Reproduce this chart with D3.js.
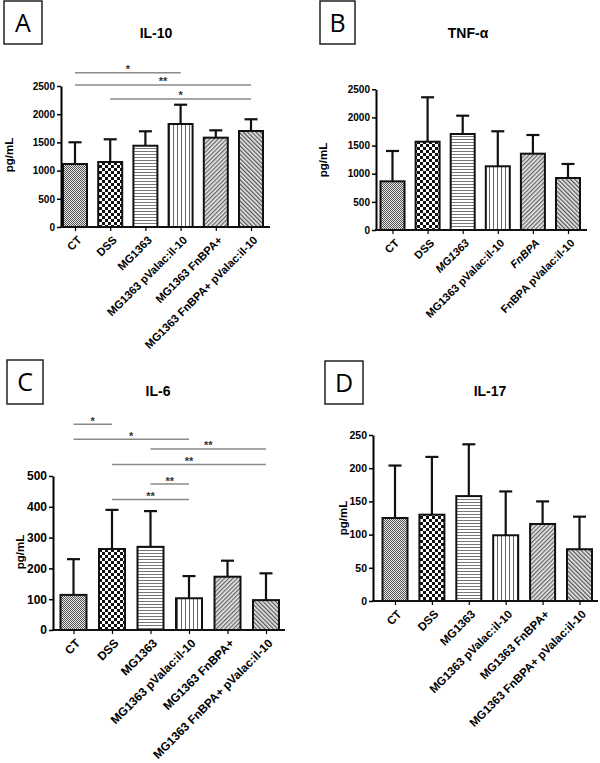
<!DOCTYPE html>
<html lang="en">
<head>
  <meta charset="UTF-8">
  <title>Cytokines</title>
  <script src="https://d3js.org/d3.v7.min.js"></script>
  <style>
    body { margin: 0; background: #fff; }
    svg { display: block; }
    svg text { font-family: "Liberation Sans", Arial, sans-serif; }
  </style>
</head>
<body>
  <svg width="600" height="763"></svg>
  <script>
    // groups
    const groupsFull = ["CT", "DSS", "MG1363", "MG1363 pValac:il-10", "MG1363 FnBPA+", "MG1363 FnBPA+ pValac:il-10"];
    const groupsTnf = ["CT", "DSS", "MG1363", "MG1363 pValac:il-10", "FnBPA", "FnBPA pValac:il-10"];

    // means and SD (pg/mL)
    const il10Mean = [1117, 1152, 1441, 1826, 1584, 1702];
    const il10Sd = [385, 403, 256, 342, 130, 208];
    const tnfMean = [865, 1569, 1706, 1132, 1356, 924];
    const tnfSd = [539, 789, 325, 622, 332, 249];
    const il6Mean = [114, 263, 270, 103, 173, 97];
    const il6Sd = [116, 127, 116, 72, 52, 87];
    const il17Mean = [125, 130, 158, 99, 116, 78];
    const il17Sd = [79, 87, 78, 66, 34, 49];

    // y ticks
    const ticks2500 = [0, 500, 1000, 1500, 2000, 2500];
    const ticks500 = [0, 100, 200, 300, 400, 500];
    const ticks250 = [0, 50, 100, 150, 200, 250];

    // significance bars: [from, to, label, height in pg/mL]
    const sigIl10 = [[0, 3, "*", 2736], [0, 5, "**", 2518], [1, 5, "*", 2270]];
    const sigIl6 = [[0, 1, "*", 668], [0, 3, "*", 619], [2, 5, "**", 588],
                    [1, 5, "**", 537], [2, 3, "**", 474], [1, 3, "**", 424]];

    const patterns = ["fine", "checker", "hlines", "vlines", "diagUp", "diagDown"];
    const FONT = "'Liberation Sans', Arial, sans-serif";

    const svg = d3.select("svg");
    svg.append("rect").attr("width", 600).attr("height", 763).attr("fill", "#fff");

    // fill patterns
    const defs = svg.append("defs");
    let p = defs.append("pattern").attr("id", "fine").attr("patternUnits", "userSpaceOnUse")
      .attr("width", 2).attr("height", 2);
    p.append("rect").attr("width", 2).attr("height", 2).attr("fill", "#e6e6e6");
    p.append("rect").attr("width", 1).attr("height", 1).attr("fill", "#555");
    p.append("rect").attr("x", 1).attr("y", 1).attr("width", 1).attr("height", 1).attr("fill", "#555");

    p = defs.append("pattern").attr("id", "checker").attr("patternUnits", "userSpaceOnUse")
      .attr("width", 6).attr("height", 6);
    p.append("rect").attr("width", 6).attr("height", 6).attr("fill", "#fff");
    p.append("rect").attr("width", 3).attr("height", 3).attr("fill", "#111");
    p.append("rect").attr("x", 3).attr("y", 3).attr("width", 3).attr("height", 3).attr("fill", "#111");

    p = defs.append("pattern").attr("id", "hlines").attr("patternUnits", "userSpaceOnUse")
      .attr("width", 4).attr("height", 3);
    p.append("rect").attr("width", 4).attr("height", 3).attr("fill", "#fff");
    p.append("rect").attr("y", 1).attr("width", 4).attr("height", 1).attr("fill", "#777");

    p = defs.append("pattern").attr("id", "vlines").attr("patternUnits", "userSpaceOnUse")
      .attr("width", 4).attr("height", 4);
    p.append("rect").attr("width", 4).attr("height", 4).attr("fill", "#fff");
    p.append("rect").attr("x", 1).attr("width", 1).attr("height", 4).attr("fill", "#666");

    ["diagUp", "diagDown"].forEach((id, i) => {
      const q = defs.append("pattern").attr("id", id).attr("patternUnits", "userSpaceOnUse")
        .attr("width", 3).attr("height", 3)
        .attr("patternTransform", `rotate(${i ? -45 : 45})`);
      q.append("rect").attr("width", 3).attr("height", 3).attr("fill", "#ebebeb");
      q.append("rect").attr("width", 1.3).attr("height", 3).attr("fill", i ? "#555" : "#666");
    });

    function panel(o) {
      const g = svg.append("g");

      // letter box
      g.append("rect").attr("x", o.box[0]).attr("y", o.box[1]).attr("width", o.box[2]).attr("height", o.box[3])
        .attr("fill", "none").attr("stroke", "#222").attr("stroke-width", 1.5);
      g.append("text").attr("x", o.box[0] + o.box[2] / 2).attr("y", o.box[1] + o.box[3] / 2 + 9)
        .attr("text-anchor", "middle").style("font-family", "'Open Sans', sans-serif")
        .attr("font-size", 25).text(o.letter);

      g.append("text").attr("x", o.titleX).attr("y", o.titleY).attr("text-anchor", "middle")
        .attr("font-weight", "bold").attr("font-size", 14).text(o.title);

      const x = d3.scalePoint().domain(o.groups).range(o.centers);
      const y = d3.scaleLinear().domain([0, o.ticks[o.ticks.length - 1]]).range(o.yRange);

      const rows = o.groups.map((k, i) => ({ k, i, m: o.mean[i], sd: o.sd[i] }));
      const hw = o.barW / 2;

      // error bars (upper only)
      g.selectAll(null).data(rows).enter().append("line")
        .attr("x1", d => x(d.k)).attr("x2", d => x(d.k))
        .attr("y1", d => y(d.m)).attr("y2", d => y(d.m + d.sd))
        .attr("stroke", "#111").attr("stroke-width", 2.2);
      g.selectAll(null).data(rows).enter().append("line")
        .attr("x1", d => x(d.k) - 6.5).attr("x2", d => x(d.k) + 6.5)
        .attr("y1", d => y(d.m + d.sd)).attr("y2", d => y(d.m + d.sd))
        .attr("stroke", "#111").attr("stroke-width", 2.2);

      g.selectAll(null).data(rows).enter().append("rect")
        .attr("x", d => x(d.k) - hw).attr("width", o.barW)
        .attr("y", d => y(d.m)).attr("height", d => y(0) - y(d.m))
        .attr("fill", d => `url(#${patterns[d.i]})`)
        .attr("stroke", "#111").attr("stroke-width", 2);

      // y axis
      const ya = g.append("g").attr("transform", `translate(${o.axisX},0)`)
        .call(d3.axisLeft(y).tickValues(o.ticks).tickFormat(d3.format("d"))
          .tickSize(4).tickSizeOuter(0).tickPadding(2))
        .attr("font-family", FONT);
      ya.select(".domain").attr("stroke-width", 2);
      ya.selectAll(".tick line").attr("stroke-width", 1.5);
      ya.selectAll("text").attr("font-weight", "bold").attr("font-size", o.tickFont);

      // x axis
      g.append("line").attr("x1", o.axisX - 1).attr("x2", o.xEnd).attr("y1", y(0)).attr("y2", y(0))
        .attr("stroke", "#111").attr("stroke-width", 2);
      const xa = g.append("g").attr("transform", `translate(0,${y(0)})`)
        .call(d3.axisBottom(x).tickSize(4).tickSizeOuter(0))
        .attr("font-family", FONT);
      xa.select(".domain").remove();
      xa.selectAll(".tick line").attr("stroke-width", 1.2);
      xa.selectAll("text")
        .attr("font-weight", "bold").attr("font-size", o.labFont)
        .attr("font-style", d => o.italic && o.italic.includes(d) ? "italic" : null)
        .attr("text-anchor", "end").attr("dy", "0.35em")
        .attr("transform", "translate(4,11) rotate(-45)")
        .attr("y", 0).attr("x", 0);

      g.append("text").attr("transform", `translate(${o.yLab[0]},${o.yLab[1]}) rotate(-90)`)
        .attr("text-anchor", "middle").attr("font-weight", "bold").attr("font-size", 11.5).text("pg/mL");

      // significance
      (o.sig || []).forEach(([a, b, lab, h]) => {
        const x1 = x(o.groups[a]), x2 = x(o.groups[b]);
        g.append("line").attr("x1", x1).attr("x2", x2).attr("y1", y(h)).attr("y2", y(h))
          .attr("stroke", "#8a8a8a").attr("stroke-width", 1.5);
        g.append("text").attr("x", (x1 + x2) / 2).attr("y", y(h) + 0.5).attr("text-anchor", "middle")
          .attr("font-weight", "bold").attr("font-size", 11).attr("fill", "#333").text(lab);
      });
    }

    panel({ letter: "A", box: [4, 1, 38, 43], title: "IL-10", titleX: 156, titleY: 38,
      groups: groupsFull, mean: il10Mean, sd: il10Sd, ticks: ticks2500, sig: sigIl10,
      centers: [75, 251], yRange: [227, 86], axisX: 61, xEnd: 270, barW: 24,
      tickFont: 10, labFont: 11.2, yLab: [13, 155] });

    panel({ letter: "B", box: [320, 1, 35, 43], title: "TNF-α", titleX: 468, titleY: 38,
      groups: groupsTnf, mean: tnfMean, sd: tnfSd, ticks: ticks2500, italic: ["MG1363", "FnBPA"],
      centers: [392.5, 568], yRange: [230, 89.3], axisX: 376, xEnd: 587, barW: 24,
      tickFont: 10, labFont: 11, yLab: [327, 160] });

    panel({ letter: "C", box: [7, 360, 36, 44], title: "IL-6", titleX: 158, titleY: 396,
      groups: groupsFull, mean: il6Mean, sd: il6Sd, ticks: ticks500, sig: sigIl6,
      centers: [73.5, 266], yRange: [630, 476], axisX: 53, xEnd: 285, barW: 26,
      tickFont: 12, labFont: 11.9, yLab: [24, 552] });

    panel({ letter: "D", box: [325, 361, 38, 43], title: "IL-17", titleX: 490, titleY: 396,
      groups: groupsFull, mean: il17Mean, sd: il17Sd, ticks: ticks250,
      centers: [395, 579.5], yRange: [601, 435], axisX: 373, xEnd: 598, barW: 25,
      tickFont: 10.5, labFont: 11.6, yLab: [347, 518] });
  </script>
</body>
</html>
